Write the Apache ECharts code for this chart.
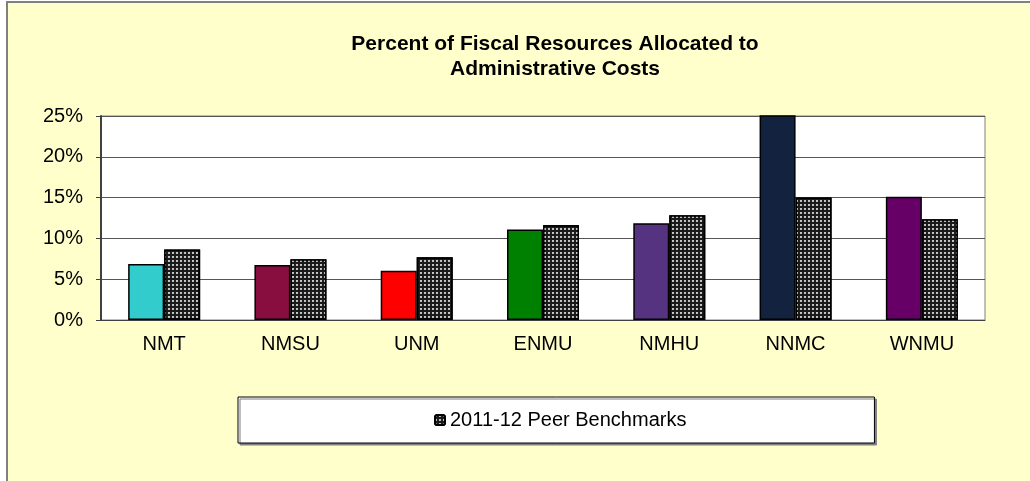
<!DOCTYPE html>
<html>
<head>
<meta charset="utf-8">
<title>Administrative Costs</title>
<script src="https://cdn.jsdelivr.net/npm/echarts@6/dist/echarts.min.js"></script>
<style>
  html, body { margin: 0; padding: 0; background: #fff; }
  #chart { width: 1030px; height: 481px; }
</style>
</head>
<body>
<div id="chart"></div>
<script>
// data
var schools = ['NMT', 'NMSU', 'UNM', 'ENMU', 'NMHU', 'NNMC', 'WNMU']
var schoolColors = ['#33CCCC', '#880E40', '#FF0000', '#008000', '#553380', '#13233F', '#660066']
var actualPct = [6.85, 6.75, 6.05, 11.1, 11.85, 30, 15.1] // NNMC runs off the top
var peerPct = [8.65, 7.45, 7.7, 11.65, 12.85, 15.0, 12.35]
var yTicks = [0, 5, 10, 15, 20, 25]

var font = "'Liberation Sans', Arial, sans-serif"

var myChart = echarts.init(document.getElementById('chart'))

var option = {
  animation: false,
  backgroundColor: '#fff',
  graphic: [{
    type: 'rect',
    silent: true,
    z: -10,
    shape: { x: 7, y: 2, width: 1200, height: 700 },
    style: { fill: '#FFFFCC', stroke: '#808080', lineWidth: 2 }
  }],
  title: {
    text: 'Percent of Fiscal Resources Allocated to\nAdministrative Costs',
    left: 550,
    top: 27,
    textAlign: 'center',
    textStyle: {
      fontFamily: font,
      fontSize: 21,
      fontWeight: 'bold',
      color: '#000',
      lineHeight: 25
    }
  },
  legend: {
    data: ['2011-12 Peer Benchmarks'],
    left: 238,
    top: 397,
    padding: [13, 188, 13, 196],
    backgroundColor: '#fff',
    borderColor: '#000',
    borderWidth: 1,
    shadowColor: '#808080',
    shadowOffsetX: 2,
    shadowOffsetY: 2,
    itemWidth: 10,
    itemHeight: 10,
    textStyle: { fontFamily: font, fontSize: 20, color: '#000' }
  },
  grid: {
    left: 101,
    right: 45,
    top: 116,
    bottom: 161,
    show: true,
    backgroundColor: '#fff',
    borderColor: '#808080',
    borderWidth: 1
  },
  xAxis: {
    type: 'category',
    data: schools,
    axisLine: { lineStyle: { color: '#404040', width: 1 } },
    axisTick: { length: 6, lineStyle: { color: '#404040' } },
    axisLabel: { fontFamily: font, fontSize: 20, color: '#000', margin: 14 }
  },
  yAxis: {
    type: 'value',
    min: yTicks[0],
    max: yTicks[yTicks.length - 1],
    interval: 5,
    axisLine: { show: true, lineStyle: { color: '#404040', width: 2 } },
    axisTick: { show: true, length: 5, lineStyle: { color: '#404040' } },
    axisLabel: {
      fontFamily: font, fontSize: 20, color: '#000', margin: 18,
      formatter: '{value}%'
    },
    splitLine: { lineStyle: { color: '#555', width: 1 } }
  },
  series: [
    {
      name: 'Actual',
      type: 'bar',
      barWidth: 36,
      barGap: '0%',
      data: actualPct.map(function (v, i) {
        return { value: v, itemStyle: { color: schoolColors[i] } }
      }),
      itemStyle: { borderColor: '#000', borderWidth: 1.5 }
    },
    {
      name: '2011-12 Peer Benchmarks',
      type: 'bar',
      barWidth: 36,
      barGap: '0%',
      data: peerPct,
      itemStyle: {
        color: '#1a1a1a',
        borderColor: '#000',
        borderWidth: 1.5,
        decal: {
          symbol: 'circle',
          symbolSize: 1.1,
          color: 'rgba(235,235,235,0.9)',
          dashArrayX: [2, 2],
          dashArrayY: [2, 2],
          rotation: 0
        }
      }
    }
  ]
}

myChart.setOption(option)
</script>
</body>
</html>
